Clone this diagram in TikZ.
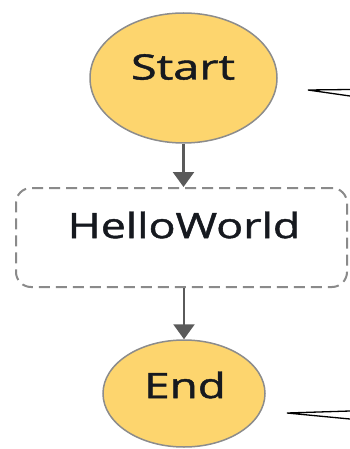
\documentclass[tikz,border=0pt]{standalone}
\usepackage{fontspec}
\setmainfont{Open Sans}
\newfontfamily\statefont{Open Sans}[FakeBold=1.2]
\usetikzlibrary{shapes.geometric,arrows.meta}
\definecolor{statefill}{HTML}{FDD56E}
\definecolor{stateedge}{HTML}{8C8C8C}
\definecolor{flowgray}{HTML}{5A5A5A}
\definecolor{inkdark}{HTML}{16191F}
\definecolor{dashgray}{HTML}{8A8A8A}
\tikzset{
  terminal/.style={ellipse, draw=stateedge, fill=statefill, line width=1.5pt, inner sep=0pt},
  taskbox/.style={rectangle, draw=dashgray, line width=2pt, rounded corners=15pt,
    dash pattern=on 11pt off 6pt, inner sep=0pt},
  caption/.style={text=inkdark, font=\statefont\fontsize{35}{40}\selectfont, inner sep=0pt},
  flow/.style={draw=flowgray, line width=2.5pt,
    -{Triangle[width=21pt,length=15pt]}},
  pointer/.style={draw=black, line width=1.3pt}
}
\begin{document}
\begin{tikzpicture}[x=1pt,y=-1pt]
  \useasboundingbox (0,0) rectangle (350,449);
  % states
  \node[terminal, minimum width=187pt, minimum height=130pt] (start) at (183.5,78) {};
  \node[caption] (startlabel) at (183,67) {\scalebox{1.34}[1]{Start}};
  \node[taskbox, minimum width=331pt, minimum height=99pt] (hello) at (181.5,237.5) {};
  \node[caption] (hellolabel) at (184,225) {\scalebox{1.28}[1]{HelloWorld}};
  \node[terminal, minimum width=162pt, minimum height=107pt] (end) at (184,393.5) {};
  \node[caption] (endlabel) at (185,385) {\scalebox{1.31}[1]{End}};
  % transitions
  \draw[flow] (start.south) -- (start.south |- hello.north);
  \draw[flow] (hello.south -| end.north) -- (end.north);
  % pointer tips entering from the right edge
  \coordinate (tipa) at (308,90);
  \coordinate (tipa1) at (350,89.5);
  \coordinate (tipa2) at (350,96);
  \draw[pointer] (tipa1) -- (tipa) -- (tipa2);
  \coordinate (tipb) at (287,413);
  \coordinate (tipb1) at (350,411);
  \coordinate (tipb2) at (350,419);
  \draw[pointer] (tipb1) -- (tipb) -- (tipb2);
\end{tikzpicture}
\end{document}
